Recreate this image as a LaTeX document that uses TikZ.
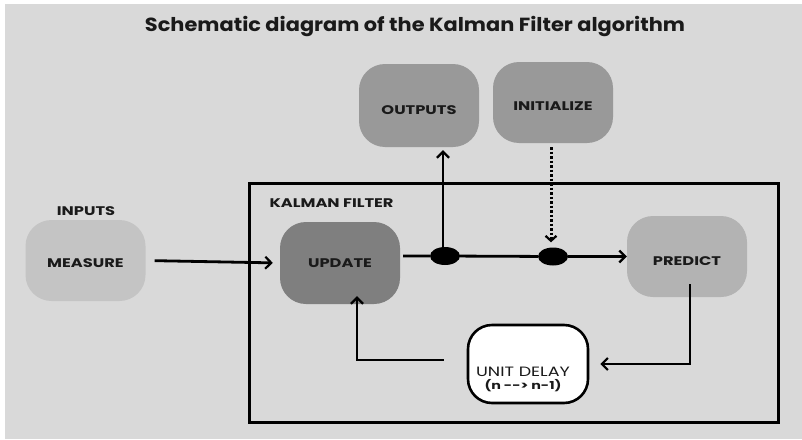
\documentclass[tikz,border=0pt]{standalone}
\usepackage{fontspec}
\setmainfont{Poppins}
\newfontfamily\lblfont[FakeStretch=1.3]{Poppins}
\newfontfamily\ttlfont[FakeStretch=1.1]{Poppins}
\usetikzlibrary{arrows.meta,shapes.geometric,calc}
\definecolor{bg}{HTML}{D9D9D9}
\definecolor{cmeas}{HTML}{C4C4C4}
\definecolor{cupd}{HTML}{7F7F7F}
\definecolor{cout}{HTML}{999999}
\definecolor{cpred}{HTML}{B3B3B3}
\definecolor{ink}{HTML}{1A1A1A}
\tikzset{
  blk/.style={rectangle, rounded corners=26pt, minimum width=120pt, minimum height=81pt, inner sep=0pt, font=\lblfont\bfseries\fontsize{12.5}{14}\selectfont, text=ink, text depth=0pt},
  conn/.style={line width=2.8pt, draw=black},
  tip/.style={-{Straight Barb[length=6pt,width=12pt,line width=2.2pt]}},
  dotn/.style={ellipse, fill=black, minimum width=30pt, minimum height=18pt, inner sep=0pt},
  lbl/.style={font=\lblfont\bfseries\fontsize{12.5}{14}\selectfont, text=ink}
}
\begin{document}
\begin{tikzpicture}[x=1pt,y=-1pt]
\useasboundingbox (0,0) rectangle (802,439);
\fill[white] (0,0) rectangle (802,439);
\fill[bg] (5,4) rectangle (802,439);
\node[font=\ttlfont\bfseries\fontsize{19}{22}\selectfont, text=ink] (title) at (415,27) {Schematic diagram of the Kalman Filter algorithm};
\node[draw=black, line width=3pt, minimum width=529pt, minimum height=239pt, inner sep=0pt] (frame) at (513.5,302.5) {};
\node[lbl, anchor=west] (kf) at (266,203) {KALMAN FILTER};
\node[lbl] (inputs) at (86,211) {INPUTS};
\node[blk, fill=cmeas, text height=14.8pt] (measure) at (85.5,260.5) {MEASURE};
\node[blk, fill=cupd, minimum height=82pt, text height=9pt] (update) at (340,263) {UPDATE};
\node[blk, fill=cout, minimum height=83pt, text height=18.8pt] (outputs) at (419,105.5) {OUTPUTS};
\node[blk, fill=cout, text height=16.8pt] (init) at (553,102.5) {INITIALIZE};
\node[blk, fill=cpred, text height=18.8pt] (predict) at (687,256.5) {PREDICT};
\node[blk, fill=white, draw=black, line width=2.6pt, minimum height=78pt, rounded corners=24pt] (ud) at (528,364) {};
\node[text=ink, align=center, inner sep=0pt] (udtext) at (523,379) {{\lblfont\fontsize{13.5}{15}\selectfont UNIT DELAY}\\[1pt]{\lblfont\bfseries\fontsize{11}{12}\selectfont(n -{}-{}> n-1)}};
\node[dotn] (d1) at (445,256) {};
\node[dotn] (d2) at (553,256.5) {};
% connectors
\draw[conn, tip, shorten <=9pt, shorten >=7pt] (measure.east) -- (update.west);
\draw[conn] ([xshift=3pt]update.east |- d1) -- (d1) -- (d2);
\draw[conn, tip] (d2) -- (predict.west |- d2);
\draw[conn, tip, shorten >=3pt] ([xshift=-2pt]d1.center) -- ([xshift=-2pt]d1.center |- outputs.south);
\draw[line width=3pt, dash pattern=on 2.5pt off 2pt, -{Straight Barb[length=5pt,width=11pt,line width=2.2pt]}, shorten <=4pt, shorten >=5pt] ([xshift=-2pt]d2.center |- init.south) -- ([xshift=-2pt]d2.north);
\draw[conn, tip, shorten >=11pt] ([xshift=3pt,yshift=13pt]predict.south) |- (ud.east);
\draw[conn, tip] ([xshift=-23pt,yshift=4pt]ud.west) -| ([xshift=17pt,yshift=8pt]update.south);
\end{tikzpicture}
\end{document}
